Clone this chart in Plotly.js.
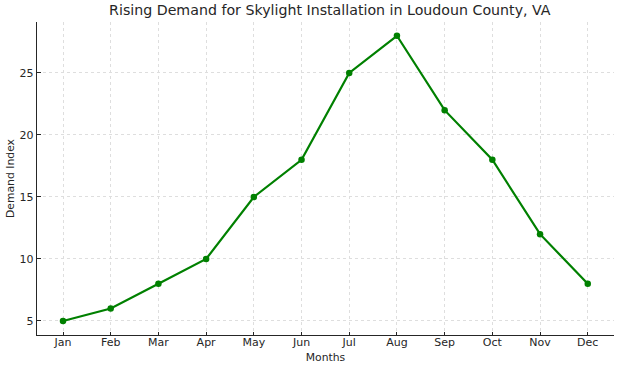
<!DOCTYPE html>
<html><head><meta charset="utf-8">
<script src="https://cdn.plot.ly/plotly-3.0.1.min.js"></script>
<style>html,body{margin:0;padding:0;background:#fff;}#c{width:620px;height:369px;}</style>
</head><body><div id="c"></div>
<script>
const months = ["Jan","Feb","Mar","Apr","May","Jun","Jul","Aug","Sep","Oct","Nov","Dec"];
const demand = [5,6,8,10,15,18,25,28,22,18,12,8];
const yTicks = [5,10,15,20,25];

const trace = {
  x: months.map((m,i)=>i), y: demand, type: 'scatter', mode: 'lines+markers',
  line: {color: '#008000', width: 2.2}, marker: {color: '#008000', size: 6.5},
  hoverinfo: 'skip'
};
const tf = {family:'DejaVu Sans', size: 11, color:'#262626'};
const af = {family:'DejaVu Sans', size: 10.8, color:'#262626'};
const layout = {
  width: 620, height: 369,
  margin: {l: 37, r: 6, t: 22, b: 34},
  paper_bgcolor: '#fff', plot_bgcolor: '#fff',
  font: {family: 'DejaVu Sans', color: '#262626'},
  showlegend: false,
  title: {text: 'Rising Demand for Skylight Installation in Loudoun County, VA', font: {family:'DejaVu Sans', size: 14.2, color:'#262626'}, x: 0.532, xanchor:'center', y: 0.985, yanchor:'top'},
  xaxis: {
    range: [-0.545, 11.55], tickvals: months.map((m,i)=>i), ticktext: months,
    showgrid: true, gridcolor: '#dedede', griddash: 'dot', gridwidth: 1,
    showline: true, linecolor: '#262626', linewidth: 1.2, mirror: false,
    ticks: 'inside', ticklen: 3.5, tickcolor: '#262626',
    tickfont: tf, ticklabelstandoff: -3,
    title: {text: 'Months', font: af, standoff: 5},
    zeroline: false, fixedrange: true
  },
  yaxis: {
    range: [3.87, 29.11], tickvals: yTicks,
    showgrid: true, gridcolor: '#dedede', griddash: 'dot', gridwidth: 1,
    showline: true, linecolor: '#262626', linewidth: 1.2, mirror: false,
    ticks: 'inside', ticklen: 3.5, tickcolor: '#262626',
    tickfont: tf,
    title: {text: 'Demand Index', font: af, standoff: 2},
    zeroline: false, fixedrange: true
  }
};
Plotly.newPlot('c', [trace], layout, {displayModeBar: false, staticPlot: true});
</script></body></html>
